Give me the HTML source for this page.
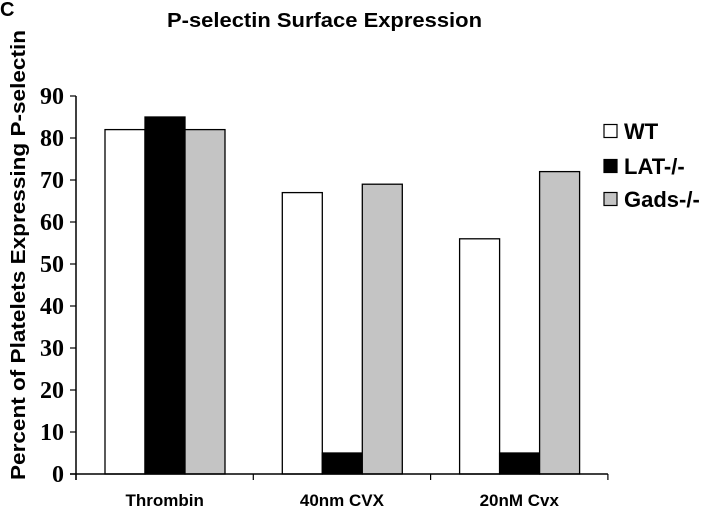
<!DOCTYPE html>
<html><head><meta charset="utf-8"><style>
html,body{margin:0;padding:0;background:#fff;}
svg{display:block;}
</style></head><body>
<svg id="chart" width="720" height="521" xmlns="http://www.w3.org/2000/svg">
<text x="0" y="16" font-family="Liberation Sans, sans-serif" font-weight="bold" font-size="20">C</text>
<text x="167" y="27" font-family="Liberation Sans, sans-serif" font-weight="bold" font-size="20" textLength="315" lengthAdjust="spacingAndGlyphs">P-selectin Surface Expression</text>
<text transform="translate(25,255) rotate(-90)" text-anchor="middle" font-family="Liberation Sans, sans-serif" font-weight="bold" font-size="20" textLength="450" lengthAdjust="spacingAndGlyphs">Percent of Platelets Expressing P-selectin</text>
<g id="plot"></g>
<g id="legend"></g>
</svg>
<script>
const categories = ["Thrombin", "40nm CVX", "20nM Cvx"];
const seriesNames = ["WT", "LAT-/-", "Gads-/-"];
const wtValues = [82, 67, 56];
const latValues = [85, 5, 5];
const gadsValues = [82, 69, 72];
const yTicks = [0, 10, 20, 30, 40, 50, 60, 70, 80, 90];

const NS = "http://www.w3.org/2000/svg";
const x0 = 76, catW = 177.3, y0 = 474, yTop = 96, yMax = 90;
const yScale = v => y0 - (v / yMax) * (y0 - yTop);
const xCat = i => x0 + i * catW;
const plot = document.getElementById('plot');
const legend = document.getElementById('legend');
const fills = ["#ffffff", "#000000", "#c4c4c4"];
const series = [wtValues, latValues, gadsValues];
function mk(tag, attrs, parent) {
  const e = document.createElementNS(NS, tag);
  for (const k in attrs) e.setAttribute(k, attrs[k]);
  parent.appendChild(e);
  return e;
}
const barW = 40, groupOff = 29;
series.forEach((vals, s) => {
  vals.forEach((v, i) => {
    const x = xCat(i) + groupOff + s * barW;
    const r = mk('rect', {x: x, y: yScale(v), width: barW, height: y0 - yScale(v), fill: fills[s], stroke: '#000', 'stroke-width': 1.3}, plot);
    
    
  });
});
const ya = mk('line', {x1: x0, y1: yTop, x2: x0, y2: y0 + 6, stroke: '#000', 'stroke-width': 1.5}, plot);


const xa = mk('line', {x1: x0 - 6, y1: y0, x2: xCat(3), y2: y0, stroke: '#000', 'stroke-width': 1.5}, plot);


yTicks.forEach(t => {
  const y = yScale(t);
  const tk = mk('line', {x1: x0 - 6, y1: y, x2: x0, y2: y, stroke: '#000', 'stroke-width': 1.2}, plot);
  
  
  const lb = mk('text', {x: 64, y: y + 8, 'text-anchor': 'end', 'font-family': 'Liberation Serif, serif', 'font-weight': 'bold', 'font-size': 24}, plot);
  lb.textContent = t;
  
  
});
for (let i = 0; i <= categories.length; i++) {
  const tk = mk('line', {x1: xCat(i), y1: y0, x2: xCat(i), y2: y0 + 6, stroke: '#000', 'stroke-width': 1.2}, plot);
  
  
}
categories.forEach((c, i) => {
  const lb = mk('text', {x: xCat(i) + catW / 2, y: 506, 'text-anchor': 'middle', 'font-family': 'Liberation Sans, sans-serif', 'font-weight': 'bold', 'font-size': 17}, plot);
  lb.textContent = c;
  
  
});
const legY = [131, 166, 199];
seriesNames.forEach((n, s) => {
  const sw = mk('rect', {x: 604, y: legY[s] - 6.5, width: 13, height: 13, fill: fills[s], stroke: '#000', 'stroke-width': 1.2}, legend);
  
  
  const t = mk('text', {x: 624, y: legY[s] + 8, 'font-family': 'Liberation Sans, sans-serif', 'font-weight': 'bold', 'font-size': 22}, legend);
  t.textContent = n;
  
  
});
</script>
</body></html>
